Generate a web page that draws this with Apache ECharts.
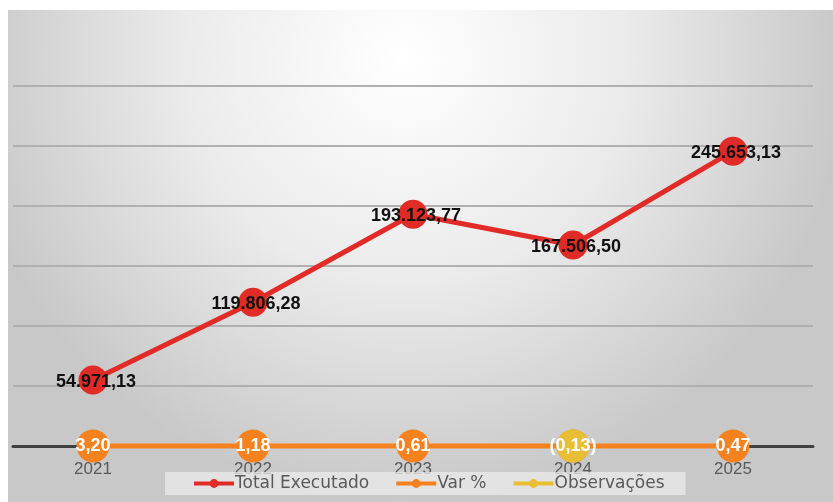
<!DOCTYPE html>
<html>
<head>
<meta charset="utf-8">
<script src="https://cdn.jsdelivr.net/npm/echarts@6/dist/echarts.min.js"></script>
<style>
html,body{margin:0;padding:0;background:#ffffff;}
#chart{width:833px;height:502px;}
</style>
</head>
<body>
<div id="chart"></div>
<script>
const categories = ['2021', '2022', '2023', '2024', '2025'];
const totalExecutado = [54971.13, 119806.28, 193123.77, 167506.50, 245653.13];
const varPct = [3.20, 1.18, 0.61, -0.13, 0.47];
const observacoes = [null, null, null, 0, null];
const seriesNames = ['Total Executado', 'Var %', 'Observações'];

function fmtBR(v, dec) {
  const neg = v < 0;
  const s = Math.abs(v).toFixed(dec);
  const parts = s.split('.');
  const intPart = parts[0].replace(/\B(?=(\d{3})+(?!\d))/g, '.');
  const out = intPart + (parts[1] ? ',' + parts[1] : '');
  return neg ? '(' + out + ')' : out;
}

const FONT = 'Liberation Sans';
const FONT2 = 'DejaVu Sans';
const chart = echarts.init(document.getElementById('chart'), null, {renderer: 'canvas'});
chart.setOption({
  animation: false,
  textStyle: {fontFamily: FONT},
  graphic: [{
    type: 'rect', z: -100, silent: true,
    shape: {x: 8, y: 10, width: 825, height: 492},
    style: {
      fill: {
        type: 'radial', x: 0.48, y: 0.1, r: 0.9,
        colorStops: [
          {offset: 0, color: '#ffffff'},
          {offset: 0.5, color: '#ebebeb'},
          {offset: 1, color: '#c8c8c8'}
        ]
      }
    }
  }],
  grid: {left: 13, right: 20, top: 86, bottom: 56, containLabel: false},
  legend: {
    data: seriesNames,
    left: 165, top: 472,
    backgroundColor: 'rgba(235,235,235,0.75)',
    padding: [3, 21, 3, 27],
    itemGap: 25,
    itemWidth: 40, itemHeight: 11,
    lineStyle: {width: 4},
    textStyle: {fontSize: 17, color: '#595959', fontFamily: FONT2, padding: [-2, 0, 0, -4]}
  },
  xAxis: {
    type: 'category',
    data: categories,
    boundaryGap: true,
    axisLine: {show: true, lineStyle: {color: '#404040', width: 3}},
    axisTick: {show: false},
    axisLabel: {fontSize: 17, color: '#595959', margin: 15, fontFamily: FONT}
  },
  yAxis: {
    type: 'value',
    min: 0, max: 300000, interval: 50000,
    axisLine: {show: false},
    axisTick: {show: false},
    axisLabel: {show: false},
    splitLine: {show: true, lineStyle: {color: '#b0b0b0', width: 2}}
  },
  series: [
    {
      name: seriesNames[0], type: 'line', data: totalExecutado, z: 2,
      clip: false,
      symbol: 'circle', symbolSize: 29,
      itemStyle: {color: '#e02b27'},
      lineStyle: {color: '#e02b27', width: 5},
      label: {
        show: true, position: 'inside', offset: [3, 2],
        color: '#111111', fontSize: 18, fontWeight: 'bold', fontFamily: FONT,
        formatter: p => fmtBR(p.value, 2)
      }
    },
    {
      name: seriesNames[1], type: 'line', data: varPct, z: 3,
      clip: false,
      symbol: 'circle', symbolSize: 33,
      itemStyle: {color: '#f5821f'},
      lineStyle: {color: '#f5821f', width: 5},
      label: {show: false}
    },
    {
      name: seriesNames[2], type: 'line', data: observacoes, z: 4,
      clip: false,
      symbol: 'circle', symbolSize: 33,
      itemStyle: {color: '#e8bf34'},
      lineStyle: {color: '#e8bf34', width: 5},
      label: {show: false}
    },
    {
      name: 'Var % (rótulos)', type: 'line', data: varPct, z: 5,
      clip: false, silent: true,
      symbol: 'circle', symbolSize: 1,
      itemStyle: {color: 'rgba(0,0,0,0)'},
      lineStyle: {width: 0, opacity: 0},
      label: {
        show: true, position: 'inside', offset: [0, 0],
        color: '#ffffff', fontSize: 18, fontWeight: 'bold', fontFamily: FONT,
        formatter: p => fmtBR(p.value, 2)
      }
    }
  ]
});
</script>
</body>
</html>
